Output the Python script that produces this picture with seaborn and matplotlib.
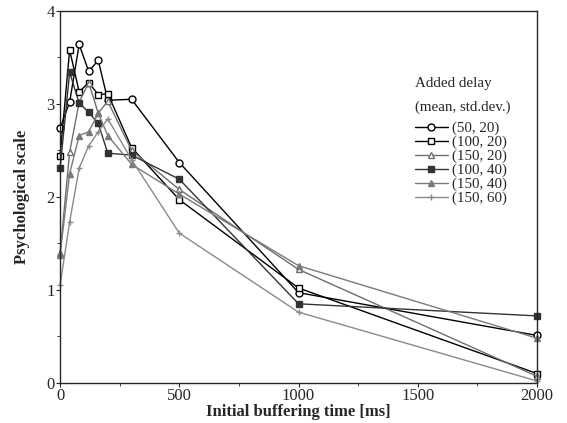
import matplotlib
matplotlib.use("Agg")
import matplotlib.pyplot as plt
import seaborn as sns
import pandas as pd
from matplotlib.ticker import MultipleLocator

# ============================================
# Data
# ============================================
buffering_ms = [0, 40, 80, 120, 160, 200, 300, 500, 1000, 2000]

series_labels = ["(50, 20)", "(100, 20)", "(150, 20)", "(100, 40)", "(150, 40)", "(150, 60)"]

score_50_20 = [2.74, 3.02, 3.64, 3.35, 3.47, 3.04, 3.05, 2.37, 0.97, 0.51]
score_100_20 = [2.44, 3.58, 3.13, 3.23, 3.10, 3.11, 2.53, 1.97, 1.02, 0.10]
score_150_20 = [1.40, 2.48, 3.02, 3.23, 2.90, 3.03, 2.50, 2.08, 1.22, 0.07]
score_100_40 = [2.31, 3.34, 3.01, 2.91, 2.79, 2.47, 2.45, 2.19, 0.85, 0.72]
score_150_40 = [1.38, 2.25, 2.66, 2.70, 2.90, 2.66, 2.35, 2.03, 1.26, 0.48]
score_150_60 = [1.05, 1.73, 2.31, 2.55, 2.70, 2.84, 2.40, 1.61, 0.76, 0.02]

all_scores = [score_50_20, score_100_20, score_150_20, score_100_40, score_150_40, score_150_60]

# ============================================
# Styles
# ============================================
STYLES = {
    "(50, 20)":  dict(color="#000000", marker="o", mfc="white", mec="#000000", ms=5),
    "(100, 20)": dict(color="#000000", marker="s", mfc="white", mec="#000000", ms=5),
    "(150, 20)": dict(color="#6e6e6e", marker="^", mfc="white", mec="#6e6e6e", ms=5),
    "(100, 40)": dict(color="#333333", marker="s", mfc="#333333", mec="#333333", ms=5),
    "(150, 40)": dict(color="#7a7a7a", marker="^", mfc="#7a7a7a", mec="#7a7a7a", ms=5),
    "(150, 60)": dict(color="#8a8a8a", marker="+", mfc="#8a8a8a", mec="#8a8a8a", ms=4),
}

rows = []
for label, scores in zip(series_labels, all_scores):
    for x, y in zip(buffering_ms, scores):
        rows.append({"buffering": x, "score": y, "delay": label})
df = pd.DataFrame(rows)

sns.set_style("ticks")
plt.rcParams["font.family"] = ["Liberation Serif", "DejaVu Serif"]

fig, ax = plt.subplots(figsize=(5.67, 4.23), dpi=100)
fig.subplots_adjust(left=0.106, right=0.947, top=0.974, bottom=0.095)

for label in series_labels:
    st = STYLES[label]
    sub = df[df["delay"] == label]
    sns.lineplot(data=sub, x="buffering", y="score", ax=ax, color=st["color"],
                 linewidth=1.0, marker=st["marker"], markersize=st["ms"],
                 markerfacecolor=st["mfc"], markeredgecolor=st["mec"],
                 markeredgewidth=1.0, label=label, clip_on=False)

ax.set_xlim(0, 2000)
ax.set_ylim(0, 4)
ax.xaxis.set_major_locator(MultipleLocator(500))
ax.xaxis.set_minor_locator(MultipleLocator(250))
ax.yaxis.set_major_locator(MultipleLocator(1))
ax.yaxis.set_minor_locator(MultipleLocator(0.5))
ax.tick_params(axis="both", which="major", direction="out", length=3, width=0.8,
               labelsize=12, pad=1)
ax.tick_params(axis="both", which="minor", direction="out", length=2, width=0.6)
for sp in ax.spines.values():
    sp.set_linewidth(1.0)

ax.set_xlabel("Initial buffering time [ms]", fontsize=12, fontweight="bold", labelpad=0)
ax.set_ylabel("Psychological scale", fontsize=12, fontweight="bold", labelpad=12)

# legend title drawn as text, entries below
ax.text(0.744, 0.806, "Added delay", transform=ax.transAxes, fontsize=10.8,
        ha="left", va="center")
ax.text(0.744, 0.742, "(mean, std.dev.)", transform=ax.transAxes, fontsize=10.8,
        ha="left", va="center")
leg = ax.legend(loc="upper left", bbox_to_anchor=(0.744, 0.703), frameon=False,
                fontsize=10.8, handlelength=2.2, handletextpad=0.3,
                labelspacing=0.02, borderaxespad=0, borderpad=0)

fig.savefig("out.png", dpi=100)
